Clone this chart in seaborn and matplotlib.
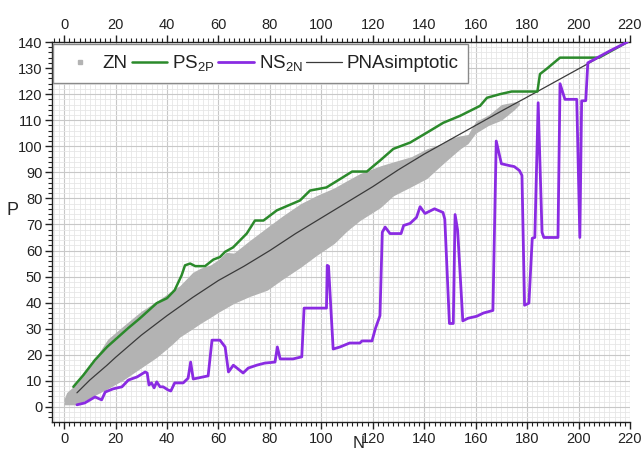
import numpy as np
import pandas as pd
import matplotlib
matplotlib.use("Agg")
import matplotlib.pyplot as plt
import seaborn as sns
from matplotlib.ticker import MultipleLocator
from matplotlib.lines import Line2D

# ---- data ----
# ZN band (lower / upper proton number of known nuclides per neutron number)
zn_n  = [0, 1, 5, 10, 17, 23, 30, 36, 42, 45, 50, 53, 57, 60, 63, 66, 72, 79, 85, 92, 98,
         105, 110, 115, 123, 128, 135, 141, 147, 150, 154, 157, 160, 165, 170, 175, 177]
zn_lo = [0.8, 0.8, 0.8, 3.4, 7, 10.3, 15, 19, 24, 26.8, 30, 32, 34.4, 36.3, 38, 39.7, 42.3,
         44.8, 49, 53.6, 58, 62.7, 67.5, 71.5, 76.5, 81, 84.5, 87.6, 93, 95.6, 99, 101,
         105, 108, 110, 114, 116]
zn_hi = [3, 5.5, 9, 15.5, 26, 31, 36.7, 40.5, 44.6, 46.5, 51.6, 53.2, 54.5, 56.5, 59.3, 59,
         63.7, 68.9, 73.3, 78, 81, 84, 86.8, 89.5, 92.5, 94, 96, 99, 101, 103, 104, 104.5,
         109.5, 112, 116, 117, 117]

# PS_2P line
ps_n = [3.6, 7.5, 12, 16.7, 24.9, 29.5, 36, 40, 43, 45.7, 47, 49, 51, 54.8, 58, 60.6, 62.6,
        65.7, 71, 74.2, 77.5, 82.7, 91.7, 95.6, 102, 112, 117.7, 122.8, 128, 134.5, 141,
        147.4, 154, 161.7, 164.4, 169.5, 174, 184, 185, 187.6, 192.8, 204.4, 208, 219]
ps_p = [7.7, 12.2, 18, 23, 30.2, 34, 39.8, 41.7, 44.8, 50.5, 54.3, 55, 54, 54, 56.5, 57.5,
        59.5, 61.2, 66.5, 71.5, 71.5, 75.4, 79.2, 83, 84.2, 90.3, 90.3, 94.5, 99, 101.4,
        105.2, 109, 111.7, 115.5, 118.6, 120, 121, 121, 127.7, 129.7, 134, 134, 134, 140]

# NS_2N line
ns_n = [5, 8, 12, 14.6, 16, 19, 22.5, 25, 28.4, 31.5, 32.3, 33, 34, 35, 36, 37.3, 38.5,
        40.4, 41.5, 43, 46.3, 48.2, 49.2, 50.2, 56, 57.5, 60.6, 62.6, 63.9, 65.8, 69.6,
        71.6, 74.9, 78, 82, 82.9, 84, 89, 92.4, 93.3, 102, 102.3, 102.8, 104.6, 107.3, 111,
        115, 115.8, 119.7, 121, 122.8, 123.7, 124.8, 126.7, 131, 132, 134.5, 137, 138.4,
        140.3, 144, 147.3, 148, 149.8, 151.3, 152, 153, 155, 157, 160.5, 163, 166.7, 168,
        170, 173, 175, 177, 178, 179, 180.7, 182, 183, 184.3, 185.8, 186.5, 192, 192.8,
        194.7, 199.3, 200.5, 201.2, 202.8, 203.6, 212, 219]
ns_p = [0.8, 1.5, 3.8, 2.7, 5.7, 6.9, 7.7, 10.3, 11.5, 13.4, 13, 8.4, 9.2, 7.3, 9.6, 7.7,
        7.7, 6.5, 6.1, 9.2, 9.2, 11, 17.2, 10.7, 11.9, 25.6, 25.6, 23, 13.4, 16, 13, 14.9,
        16, 16.8, 17.2, 23, 18.4, 18.4, 19.2, 37.9, 37.9, 54.3, 54, 22.2, 23, 24.5, 24.5,
        25.3, 25.3, 30, 35, 67, 69, 66.5, 66.5, 69.6, 70.4, 72.7, 76.8, 74.2, 76, 74.6, 72,
        32, 32, 73.8, 67.7, 33, 34, 34.8, 36, 37, 102, 93.3, 92.6, 92.2, 90.7, 88.8, 39,
        39.8, 64.7, 65, 116.7, 67, 65, 65, 124, 118, 118, 65, 117.4, 117.5, 132, 136.5, 140]

# PNA asymptotic line
pna_n = [5, 10, 16.7, 20, 30, 40, 50, 60, 70, 80, 90, 100, 110, 120, 130, 140, 150, 160,
         170, 184, 200, 219]
pna_p = [5.4, 10.3, 16, 19, 27.5, 35, 42, 48.5, 54, 60, 66.5, 72.5, 78.5, 84.5, 91, 97,
         102.5, 108, 113.5, 121, 129.7, 140]

series_labels = ["ZN", "PS$_{2P}$", "NS$_{2N}$", "PNAsimptotic"]
x_label = "N"
y_label = "P"

# ---- style ----
sns.set_theme(style="white")
plt.rcParams['font.family'] = ['Liberation Sans', 'DejaVu Sans']
plt.rcParams['mathtext.default'] = 'regular'
plt.rcParams['text.color'] = '#222222'

c_zn = '#b3b3b3'
c_ps = '#2b8a2b'
c_ns = '#8a2be2'
c_pna = '#3a3a3a'

fig = plt.figure(figsize=(6.44, 4.51), dpi=100)
ax = fig.add_axes([52 / 644, 1 - 422 / 451, 578 / 644, 380 / 451])

# ZN band
ax.fill_between(zn_n, zn_lo, zn_hi, color=c_zn, lw=0, zorder=2)

df_ps = pd.DataFrame({"N": ps_n, "P": ps_p})
df_ns = pd.DataFrame({"N": ns_n, "P": ns_p})
df_pna = pd.DataFrame({"N": pna_n, "P": pna_p})

sns.lineplot(data=df_ps, x="N", y="P", sort=False, estimator=None, color=c_ps, lw=1.8, ax=ax, zorder=4)
sns.lineplot(data=df_ns, x="N", y="P", sort=False, estimator=None, color=c_ns, lw=2.0, ax=ax, zorder=5)
sns.lineplot(data=df_pna, x="N", y="P", sort=False, estimator=None, color=c_pna, lw=0.9, ax=ax, zorder=3)

ax.set_xlim(-4.7, 220)
ax.set_ylim(-5.8, 140)

ax.xaxis.set_major_locator(MultipleLocator(20))
ax.xaxis.set_minor_locator(MultipleLocator(2))
ax.yaxis.set_major_locator(MultipleLocator(10))
ax.yaxis.set_minor_locator(MultipleLocator(2))

ax.grid(True, which='major', color='#c8c8c8', lw=0.8, zorder=0)
ax.grid(True, which='minor', color='#e6e6e6', lw=0.6, zorder=0)
ax.set_axisbelow(True)

for s in ['left', 'bottom', 'top']:
    ax.spines[s].set_visible(True)
    ax.spines[s].set_color('#222222')
    ax.spines[s].set_linewidth(1.0)
ax.spines['right'].set_visible(False)

ax.tick_params(axis='both', which='major', direction='out', length=5, width=1,
               color='#222222', labelsize=10.5, labelcolor='#222222', pad=2)
ax.tick_params(axis='both', which='minor', direction='out', length=3, width=0.8, color='#222222')
ax.tick_params(axis='x', which='both', top=True, labeltop=True, bottom=True)
ax.tick_params(axis='y', which='both', right=False, left=True)

ax.set_xlabel(x_label, fontsize=12)
ax.set_ylabel(y_label, fontsize=13, rotation=0)
ax.xaxis.set_label_coords(0.53, -0.038)
ax.yaxis.set_label_coords(-0.0675, 0.534)

handles = [
    Line2D([], [], color=c_zn, marker='s', markersize=2.5, lw=0),
    Line2D([], [], color=c_ps, lw=1.8),
    Line2D([], [], color=c_ns, lw=2.0),
    Line2D([], [], color=c_pna, lw=0.9),
]
leg = ax.legend(handles, series_labels, loc='upper left', bbox_to_anchor=(0.002, 0.995),
                ncol=4, fontsize=13.5, frameon=True, fancybox=False, borderaxespad=0,
                handlelength=1.9, handletextpad=0.25, columnspacing=0.2, borderpad=0.5)
leg.get_frame().set_edgecolor('#8a8a8a')
leg.get_frame().set_linewidth(1.0)
leg.get_frame().set_facecolor('white')
leg.get_frame().set_alpha(1)
leg.set_zorder(10)

fig.savefig("out.png", dpi=100)
